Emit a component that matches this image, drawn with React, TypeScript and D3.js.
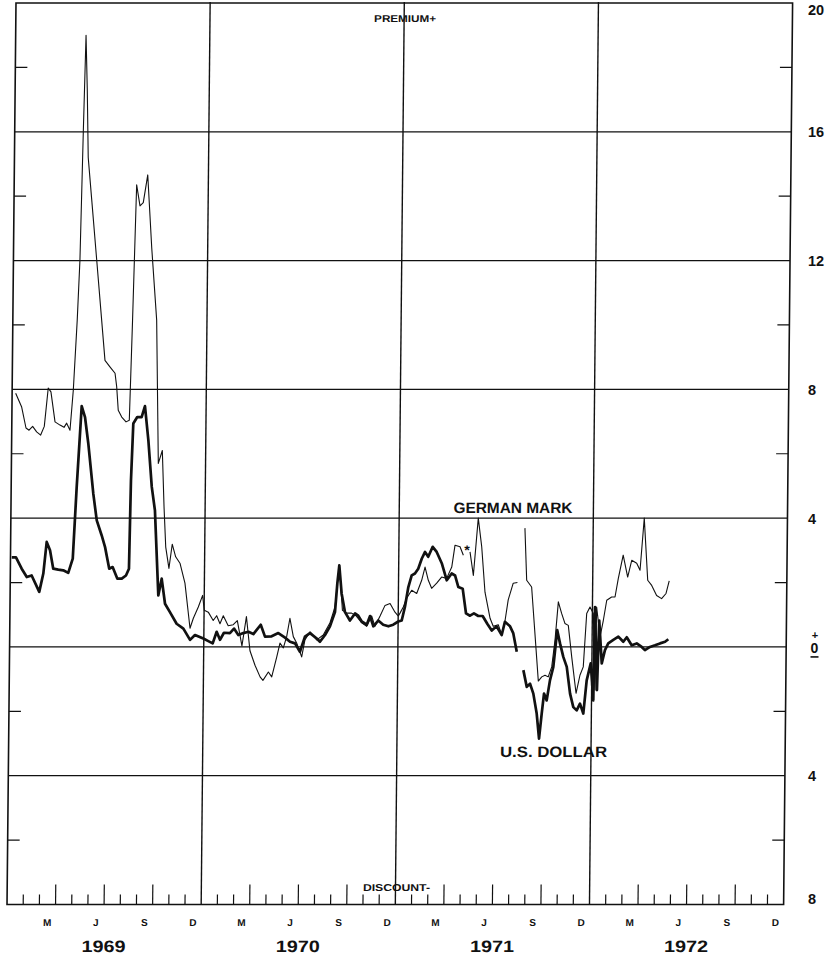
import React from "react";
import * as d3 from "d3";

const W = 840;
const H = 959;

// x = months since Jan 1, 1969 ; y = percent premium(+) / discount(-)
const monthsGM = [
  0.22, 0.6, 0.88, 1.07, 1.29, 1.54, 1.79, 2.01, 2.23, 2.4,
  2.67, 2.98, 3.23, 3.39, 3.6, 3.78, 3.98, 4.11, 4.24, 4.35,
  4.46, 4.56, 4.8, 5.15, 5.49, 5.72, 6.03, 6.35, 6.46, 6.57,
  6.79, 7.06, 7.26, 7.4, 7.57, 7.79, 7.99, 8.25, 8.54, 8.89,
  9.08, 9.32, 9.46, 9.59, 9.8, 9.99, 10.21, 10.48, 10.8, 11.14,
  11.34, 11.64, 11.9, 12.01, 12.26, 12.57, 12.78, 12.99, 13.19, 13.5,
  13.81, 14.06, 14.36, 14.62, 14.86, 15.18, 15.5, 15.68, 16.01, 16.22,
  16.52, 16.71, 16.92, 17.12, 17.31, 17.53, 17.74, 18.06, 18.25, 18.56,
  18.98, 19.38, 19.79, 20.09, 20.33, 20.55, 20.82, 21.12, 21.39, 21.75,
  22.06, 22.36, 22.57, 22.88, 23.18, 23.49, 23.8, 24.01, 24.11, 24.31,
  24.51, 24.82, 25.13, 25.43, 25.63, 25.84, 26.05, 26.36, 26.66, 26.97,
  27.28, 27.47, 27.78, 27.99,
  28.2,
  28.4, 28.62, 28.89, 29.12, 29.35, 29.68, 29.88, 30.19, 30.41, 30.6, 30.79, 31.09, 31.35,
  31.6,
  31.78, 31.92, 32.23, 32.7, 32.91, 33.11, 33.31, 33.52, 33.71, 33.89,
  34.1, 34.31, 34.52, 34.75, 35.04, 35.27, 35.47, 35.65, 35.85, 36.06,
  36.21, 36.26, 36.49, 36.68, 36.88, 37.18, 37.39, 37.58, 37.87, 38.16,
  38.4, 38.71, 38.92, 39.15, 39.4, 39.65, 39.96, 40.27, 40.54, 40.73,
];
const valuesGM: (number | null)[] = [
  7.88, 7.45, 6.8, 6.73, 6.85, 6.68, 6.58, 6.85, 8.04, 7.92,
  6.99, 6.89, 6.82, 6.95, 6.73, 7.97, 10.15, 12.0, 16.0, 19.0,
  17.3, 15.2, 13.9, 12.0, 10.15, 8.9, 8.7, 8.5, 8.08, 7.35,
  7.14, 6.99, 7.04, 10.15, 14.35, 13.7, 13.8, 14.66, 12.4, 10.15,
  5.7, 6.1, 4.35, 3.1, 2.44, 3.19, 2.8, 2.6, 1.98, 0.58,
  0.89, 1.24, 1.6, 1.14, 1.08, 0.82, 0.97, 0.72, 0.97, 0.66,
  0.69, 0.82, 0.03, 0.94, -0.12, -0.57, -0.93, -1.04, -0.78, -0.93,
  -0.31, 0.12, -0.03, 0.32, 0.89, 0.32, 0.12, -0.31, 0.22, 0.47,
  0.22, 0.37, 0.75, 1.24, 2.56, 1.14, 1.05, 1.05, 0.97, 0.75,
  0.64, 0.96, 0.64, 0.96, 1.29, 1.35, 1.08, 0.96, 1.05, 1.24,
  1.51, 1.76, 1.66, 2.07, 2.48, 2.07, 1.82, 1.98, 2.17, 2.13,
  2.48, 3.16, 3.11, 2.85,
  null,
  2.95, 2.22, 4.0, 3.11, 1.7, 0.89, 0.64, 0.69, 0.38, 0.79, 1.46, 1.98, 2.0,
  null,
  3.69, 2.07, 1.86, -1.06, -0.93, -0.88, -0.93, -0.62, 0.22, 1.4,
  1.04, 0.73, 0.67, -0.31, -1.44, -0.88, -0.62, 1.04, 1.24, 1.04,
  -1.34, 1.24, 0.32, 0.82, 1.45, 1.55, 1.55, 2.12, 2.85, 2.17,
  2.69, 2.6, 2.38, 4.0, 2.07, 1.91, 1.6, 1.5, 1.66, 2.05,
];

const monthsUS = [
  0.08, 0.34, 0.7, 1.02, 1.32, 1.8, 2.04, 2.23, 2.44, 2.65,
  2.96, 3.27, 3.58, 3.85, 4.05, 4.31, 4.52, 4.74, 5.08, 5.31,
  5.62, 5.84, 6.11, 6.32, 6.62, 6.89, 7.15, 7.33, 7.4, 7.51,
  7.75, 8.02, 8.22, 8.45, 8.69, 8.9, 9.16, 9.36, 9.58, 9.89,
  10.31, 10.73, 11.15, 11.45, 11.97, 12.28, 12.55, 12.79, 13.0, 13.24,
  13.61, 13.86, 14.13, 14.44, 14.75, 15.06, 15.51, 15.78, 16.19, 16.6,
  17.02, 17.33, 17.64, 17.95, 18.25, 18.56, 18.98, 19.18, 19.49, 19.79,
  20.09, 20.22, 20.33, 20.49, 20.71, 21.02, 21.33, 21.53, 21.75, 22.06,
  22.26, 22.47, 22.77, 23.08, 23.4, 23.7, 24.01, 24.22, 24.41, 24.61,
  24.81, 25.01, 25.21, 25.42, 25.62, 25.82, 26.09, 26.34, 26.66, 26.98,
  27.28, 27.49, 27.7, 27.97, 28.19, 28.44, 28.68, 28.95, 29.22, 29.51,
  29.79, 30.09, 30.41, 30.6, 30.92, 31.12, 31.35,
  31.55,
  31.77, 31.99, 32.19, 32.4, 32.62, 32.78, 32.93, 33.06, 33.23, 33.42,
  33.62, 33.84, 34.02, 34.23, 34.45, 34.67, 34.88, 35.09, 35.29, 35.5,
  35.69, 35.93, 36.11, 36.16, 36.33, 36.43, 36.61, 36.8, 37.0, 37.31,
  37.62, 37.93, 38.14, 38.45, 38.76, 39.07, 39.27, 39.58, 39.89, 40.2, 40.51, 40.71,
];
const valuesUS: (number | null)[] = [
  2.78, 2.78, 2.43, 2.17, 2.22, 1.71, 2.28, 3.26, 3.0, 2.43,
  2.4, 2.38, 2.3, 2.74, 4.97, 7.48, 7.14, 6.32, 4.76, 3.93,
  3.47, 3.1, 2.43, 2.48, 2.12, 2.12, 2.22, 2.43, 5.18, 6.94,
  7.14, 7.14, 7.48, 6.42, 4.97, 4.24, 1.6, 2.12, 1.34, 1.08,
  0.72, 0.57, 0.22, 0.37, 0.26, 0.18, 0.11, 0.47, 0.22, 0.44,
  0.43, 0.57, 0.37, 0.43, 0.47, 0.4, 0.69, 0.32, 0.33, 0.43,
  0.29, 0.16, 0.11, -0.15, 0.32, 0.43, 0.26, 0.16, 0.37, 0.64,
  1.08, 1.98, 2.53, 1.66, 1.08, 0.82, 1.04, 0.97, 0.79, 0.69,
  0.96, 0.64, 0.82, 0.69, 0.64, 0.69, 0.79, 0.82, 1.24, 1.86,
  2.22, 2.28, 2.43, 2.74, 2.95, 2.8, 3.11, 2.95, 2.6, 2.07,
  2.28, 2.22, 1.86, 1.81, 1.04, 0.97, 1.04, 0.96, 0.96, 0.72,
  0.51, 0.64, 0.37, 0.78, 0.64, 0.43, -0.15,
  null,
  -0.72, -1.24, -1.14, -1.45, -2.07, -2.85, -2.07, -1.45, -1.66, -1.04,
  -0.62, 0.52, 0.11, -0.31, -0.62, -1.45, -1.87, -1.97, -1.76, -2.07,
  -1.04, -0.51, -1.66, 1.24, -1.34, 0.82, -0.51, -0.1, 0.11, 0.22,
  0.32, 0.16, 0.3, 0.05, 0.11, 0.0, -0.1, 0.0, 0.05, 0.11, 0.16, 0.24,
];

const gridValues = [16, 12, 8, 4, 0, -4];
const minorValues = [18, 14, 10, 6, 2, -2, -6];
const yLabelValues = [20, 16, 12, 8, 4, -4, -8];
const yLabelTexts = ["20", "16", "12", "8", "4", "4", "8"];
const quarterLetters = ["M", "J", "S", "D"];
const quarterMonths = [2, 5, 8, 11];
const yearLabels = ["1969", "1970", "1971", "1972"];
const yearBoundaries = [12, 24, 36];

const FONT = "'Liberation Sans', Arial, Helvetica, sans-serif";

export default function App() {
  const x = d3.scaleLinear().domain([0, 48]).range([11.5, 788.1]);
  const y = d3.scaleLinear().domain([-8, 20]).range([904.5, 3]);

  const gm = monthsGM.map((m, i) => ({ m, v: valuesGM[i] }));
  const us = monthsUS.map((m, i) => ({ m, v: valuesUS[i] }));

  const line = d3
    .line<{ m: number; v: number | null }>()
    .defined((d) => d.v !== null)
    .x((d) => x(d.m))
    .y((d) => y(d.v as number));

  const x0 = x(0);
  const x1 = x(48);
  const yTop = y(20);
  const yBot = y(-8);

  const monthTicks = d3.range(1, 48).filter((m) => m % 12 !== 0);

  return (
    <svg width={W} height={H} viewBox={`0 0 ${W} ${H}`} style={{ display: "block", position: "absolute", left: 0, top: 0, background: "#fff" }}>
      <rect x={0} y={0} width={W} height={H} fill="#fff" />
      <g transform="translate(4.52,0) skewX(-0.57)">
        {/* horizontal grid */}
        {gridValues.map((v) => (
          <line key={"g" + v} x1={x0} x2={x1} y1={y(v)} y2={y(v)} stroke="#111" strokeWidth={1.3} />
        ))}
        {/* vertical year boundaries */}
        {yearBoundaries.map((m) => (
          <line key={"vb" + m} x1={x(m)} x2={x(m)} y1={yTop - 1} y2={yBot} stroke="#111" strokeWidth={1.4} />
        ))}
        {/* minor y ticks left & right */}
        {minorValues.map((v) => (
          <g key={"mt" + v}>
            <line x1={x0} x2={x0 + 12} y1={y(v)} y2={y(v)} stroke="#111" strokeWidth={1.2} />
            <line x1={x1 - 12} x2={x1} y1={y(v)} y2={y(v)} stroke="#111" strokeWidth={1.2} />
          </g>
        ))}
        {/* bottom month ticks */}
        {monthTicks.map((m) => (
          <line
            key={"bt" + m}
            x1={x(m)}
            x2={x(m)}
            y1={yBot}
            y2={yBot - (m % 3 === 0 ? 20 : 10)}
            stroke="#111"
            strokeWidth={1.2}
          />
        ))}
        {/* frame */}
        <rect x={x0} y={yTop} width={x1 - x0} height={yBot - yTop} fill="none" stroke="#111" strokeWidth={1.6} />

        {/* data */}
        <path d={line(gm) || ""} fill="none" stroke="#111" strokeWidth={1.1} strokeLinejoin="round" />
        <path d={line(us) || ""} fill="none" stroke="#111" strokeWidth={2.7} strokeLinejoin="round" />

        {/* month letters and years */}
        {yearLabels.map((yr, i) => (
          <g key={yr}>
            {quarterLetters.map((q, j) => (
              <text
                key={q + j}
                x={x(i * 12 + quarterMonths[j] + 0.5)}
                y={926}
                textAnchor="middle"
                fontFamily={FONT}
                fontWeight="bold"
                fontSize={10}
                fill="#111"
              >
                {q}
              </text>
            ))}
            <text
              x={x(i * 12 + 6)}
              y={952}
              textAnchor="middle"
              fontFamily={FONT}
              fontWeight="bold"
              fontSize={16.5}
              textLength={44}
              lengthAdjust="spacingAndGlyphs"
              fill="#111"
            >
              {yr}
            </text>
          </g>
        ))}

        {/* annotations */}
        <text x={x(24) + 1} y={yTop + 19} textAnchor="middle" fontFamily={FONT} fontWeight="bold" fontSize={10} textLength={62} lengthAdjust="spacingAndGlyphs" fill="#111">
          PREMIUM+
        </text>
        <text x={x(24) + 1} y={yBot - 13} textAnchor="middle" fontFamily={FONT} fontWeight="bold" fontSize={10} textLength={67} lengthAdjust="spacingAndGlyphs" fill="#111">
          DISCOUNT-
        </text>
        <text x={x(27.35)} y={y(4.15)} fontFamily={FONT} fontWeight="bold" fontSize={15} textLength={119} lengthAdjust="spacingAndGlyphs" fill="#111">
          GERMAN MARK
        </text>
        <text x={x(30.38)} y={y(-3.43)} fontFamily={FONT} fontWeight="bold" fontSize={15} textLength={107} lengthAdjust="spacingAndGlyphs" fill="#111">
          U.S. DOLLAR
        </text>
        <text x={x(28.22)} y={y(2.85)} textAnchor="middle" fontFamily={FONT} fontWeight="bold" fontSize={14} fill="#111">
          *
        </text>
      </g>

      {/* right-side value labels */}
      {yLabelValues.map((v, i) => (
        <text
          key={"yl" + i}
          x={808}
          y={y(v) + (v === 20 ? 12 : v === -8 ? -1 : 5.5)}
          fontFamily={FONT}
          fontWeight="bold"
          fontSize={14.5}
          fill="#111"
        >
          {yLabelTexts[i]}
        </text>
      ))}
      <text x={815} y={y(0) - 8} textAnchor="middle" fontFamily={FONT} fontWeight="bold" fontSize={11} fill="#111">
        +
      </text>
      <text x={814.5} y={y(0) + 6} textAnchor="middle" fontFamily={FONT} fontWeight="bold" fontSize={14} fill="#111">
        0
      </text>
      <line x1={810.5} x2={818.5} y1={y(0) + 10} y2={y(0) + 10} stroke="#111" strokeWidth={1.6} />
    </svg>
  );
}
